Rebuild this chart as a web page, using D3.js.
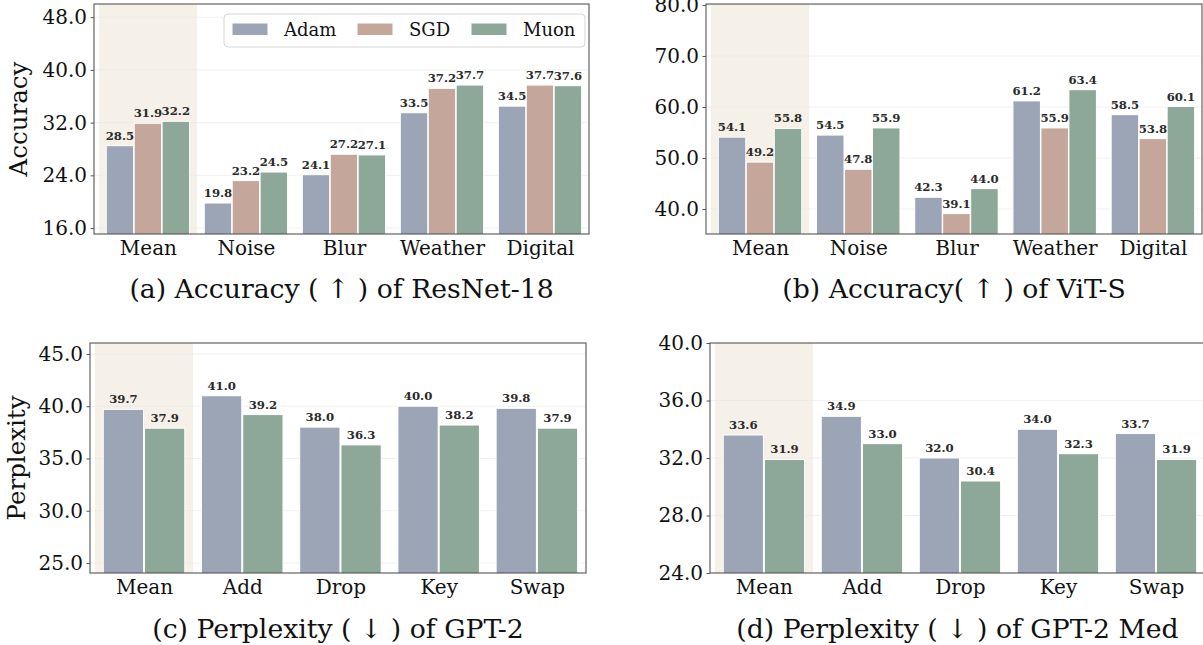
<!DOCTYPE html>
<html>
<head>
<meta charset="utf-8">
<script src="https://cdn.jsdelivr.net/npm/d3@7/dist/d3.min.js"></script>
<style>
  html, body { margin: 0; padding: 0; background: #fff; }
  svg { display: block; }
  text { font-family: "DejaVu Serif", serif; }
</style>
</head>
<body>
<svg id="chart" width="1203" height="645"></svg>
<script>
// ---------- Data ----------
const visionCategories = ["Mean", "Noise", "Blur", "Weather", "Digital"];
const textCategories = ["Mean", "Add", "Drop", "Key", "Swap"];
const optimizerNames = ["Adam", "SGD", "Muon"];

const resnetAdam = [28.5, 19.8, 24.1, 33.5, 34.5];
const resnetSGD  = [31.9, 23.2, 27.2, 37.2, 37.7];
const resnetMuon = [32.2, 24.5, 27.1, 37.7, 37.6];

const vitAdam = [54.1, 54.5, 42.3, 61.2, 58.5];
const vitSGD  = [49.2, 47.8, 39.1, 55.9, 53.8];
const vitMuon = [55.8, 55.9, 44.0, 63.4, 60.1];

const gpt2Adam = [39.7, 41.0, 38.0, 40.0, 39.8];
const gpt2Muon = [37.9, 39.2, 36.3, 38.2, 37.9];

const gpt2MedAdam = [33.6, 34.9, 32.0, 34.0, 33.7];
const gpt2MedMuon = [31.9, 33.0, 30.4, 32.3, 31.9];

const resnetTicks  = [16, 24, 32, 40, 48];
const vitTicks     = [40, 50, 60, 70, 80];
const gpt2Ticks    = [25, 30, 35, 40, 45];
const gpt2MedTicks = [24, 28, 32, 36, 40];

const titles = [
  "(a) Accuracy ( \u2191 ) of ResNet-18",
  "(b) Accuracy( \u2191 ) of ViT-S",
  "(c) Perplexity ( \u2193 ) of GPT-2",
  "(d) Perplexity ( \u2193 ) of GPT-2 Med"
];

const colors = { Adam: "#9ca5b6", SGD: "#c4a69a", Muon: "#8da899" };

// ---------- Panels ----------
const panels = [
  { x0: 94,  x1: 589,  y0: 4,   y1: 234, cats: visionCategories,
    series: [["Adam", resnetAdam], ["SGD", resnetSGD], ["Muon", resnetMuon]],
    ydom: [15.1, 50.0], ticks: resnetTicks, title: titles[0], titleY: 298,
    ylabel: "Accuracy", ylabelX: 27, legend: true },
  { x0: 706, x1: 1202, y0: 4,   y1: 234, cats: visionCategories,
    series: [["Adam", vitAdam], ["SGD", vitSGD], ["Muon", vitMuon]],
    ydom: [35.1, 80.2], ticks: vitTicks, title: titles[1], titleY: 298 },
  { x0: 90,  x1: 586,  y0: 343, y1: 573, cats: textCategories,
    series: [["Adam", gpt2Adam], ["Muon", gpt2Muon]],
    ydom: [24.04, 46.05], ticks: gpt2Ticks, title: titles[2], titleY: 638,
    ylabel: "Perplexity", ylabelX: 25 },
  { x0: 710, x1: 1205, y0: 343, y1: 573, cats: textCategories,
    series: [["Adam", gpt2MedAdam], ["Muon", gpt2MedMuon]],
    ydom: [24, 40], ticks: gpt2MedTicks, title: titles[3], titleY: 638 }
];

const svg = d3.select("#chart");
const fmt = d3.format(".1f");

panels.forEach(p => {
  const g = svg.append("g");
  const x = d3.scaleLinear().domain([-0.55, 4.5]).range([p.x0, p.x1]);
  const y = d3.scaleLinear().domain(p.ydom).range([p.y1, p.y0]);

  const clipId = "clip" + Math.round(p.x0) + "_" + Math.round(p.y0);
  svg.append("clipPath").attr("id", clipId)
    .append("rect").attr("x", p.x0).attr("y", p.y0)
    .attr("width", p.x1 - p.x0).attr("height", p.y1 - p.y0);

  const plot = g.append("g").attr("clip-path", `url(#${clipId})`);

  // shaded "Mean" column
  plot.append("rect")
    .attr("x", x(-0.5)).attr("width", x(0.5) - x(-0.5))
    .attr("y", p.y0).attr("height", p.y1 - p.y0)
    .attr("fill", "#f5f0e8");

  // grid
  plot.selectAll(".grid").data(p.ticks).enter().append("line")
    .attr("x1", p.x0).attr("x2", p.x1)
    .attr("y1", d => y(d)).attr("y2", d => y(d))
    .attr("stroke", "#e6e6e6").attr("stroke-opacity", 0.7).attr("stroke-width", 0.8);

  // bars
  const n = p.series.length;
  const bw = n === 3 ? 0.28 : 0.41;
  const step = n === 3 ? 0.285 : 0.42;
  p.series.forEach(([name, vals], si) => {
    const off = (si - (n - 1) / 2) * step;
    plot.selectAll(".bar" + si).data(vals).enter().append("rect")
      .attr("x", (d, i) => x(i + off - bw / 2))
      .attr("width", x(bw) - x(0))
      .attr("y", d => y(d))
      .attr("height", d => p.y1 - y(d) + 2)
      .attr("fill", colors[name])
      .attr("stroke", "#ffffff").attr("stroke-width", 1);
    g.selectAll(".lab" + si).data(vals).enter().append("text")
      .attr("x", (d, i) => x(i + off))
      .attr("y", d => y(d) - 6)
      .attr("text-anchor", "middle")
      .attr("font-size", 11.7).attr("font-weight", "bold")
      .attr("fill", "#2a2a2a")
      .text(d => fmt(d));
  });

  // y axis
  const yAxis = d3.axisLeft(y).tickValues(p.ticks).tickFormat(fmt)
    .tickSizeInner(3.5).tickSizeOuter(0).tickPadding(3.5);
  const ya = g.append("g").attr("transform", `translate(${p.x0},0)`).call(yAxis);
  ya.select(".domain").remove();
  ya.selectAll("line").attr("stroke", "#555");
  ya.selectAll("text").attr("font-size", 20).attr("fill", "#111")
    .attr("font-family", "DejaVu Serif");

  // x axis labels
  const xAxis = d3.axisBottom(x).tickValues(d3.range(p.cats.length))
    .tickFormat(i => p.cats[i]).tickSize(0).tickPadding(7);
  const xa = g.append("g").attr("transform", `translate(0,${p.y1})`).call(xAxis);
  xa.select(".domain").remove();
  xa.selectAll("text").attr("font-size", 20).attr("fill", "#111")
    .attr("font-family", "DejaVu Serif");

  // frame
  g.append("rect").attr("x", p.x0).attr("y", p.y0)
    .attr("width", p.x1 - p.x0).attr("height", p.y1 - p.y0)
    .attr("fill", "none").attr("stroke", "#555").attr("stroke-width", 1.1);

  // title
  g.append("text").attr("x", (p.x0 + p.x1) / 2).attr("y", p.titleY)
    .attr("text-anchor", "middle").attr("font-size", 26.7).attr("fill", "#111")
    .text(p.title);

  if (p.ylabel) {
    g.append("text")
      .attr("transform", `translate(${p.ylabelX},${(p.y0 + p.y1) / 2}) rotate(-90)`)
      .attr("text-anchor", "middle").attr("font-size", 24.5).attr("fill", "#111")
      .text(p.ylabel);
  }

  if (p.legend) {
    const lg = g.append("g");
    lg.append("rect").attr("x", 224).attr("y", 14).attr("width", 361).attr("height", 33)
      .attr("rx", 4).attr("fill", "#fff").attr("fill-opacity", 0.8)
      .attr("stroke", "#d5d5d5").attr("stroke-width", 1);
    const lx = [232, 357, 471];
    optimizerNames.forEach((name, i) => {
      lg.append("rect").attr("x", lx[i]).attr("y", 23).attr("width", 36).attr("height", 12.5)
        .attr("fill", colors[name]).attr("stroke", "#fff").attr("stroke-width", 1);
      lg.append("text").attr("x", lx[i] + 52).attr("y", 35.5)
        .attr("font-size", 18).attr("fill", "#111").text(name);
    });
  }
});
</script>
</body>
</html>
